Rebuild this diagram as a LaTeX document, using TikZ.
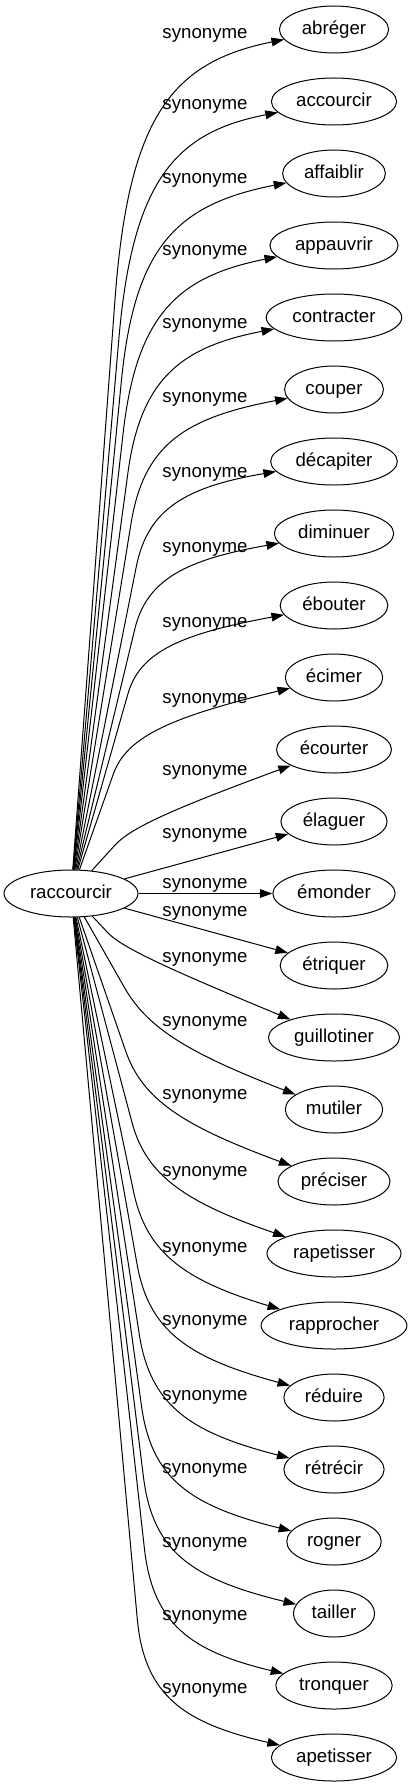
\documentclass[tikz,border=0pt]{standalone}
\usepackage{fontspec}
\setmainfont{Liberation Sans}
\usepackage{tikz}
\usetikzlibrary{arrows.meta,calc,shapes.geometric}
\tikzset{
  every node/.style={font=\fontsize{18.67}{22}\selectfont},
  word/.style={draw, ellipse, line width=1pt, inner xsep=6.4pt, inner ysep=0pt,
    minimum height=47pt, text height=13.5pt, text depth=4pt},
  syn/.style={line width=1pt, -{Triangle[length=12.5pt,width=8.7pt]}},
  lbl/.style={inner sep=0pt, text height=13.5pt, text depth=4pt}
}
% edge from raccourcir, straight up to #4pt before the bend (#2,#3), then curved
\newcommand\synedge[4]{
\coordinate (k#1) at (#2,#3);
\coordinate (a#1) at ($(k#1)!#4pt!(raccourcir)$);
\draw[syn] (raccourcir) -- (a#1) .. controls ($(a#1)!0.8!(k#1)$) and ($(#1)!0.8!(k#1)$) .. (#1);}

\begin{document}
\begin{tikzpicture}[x=1pt,y=-1pt]
\fill[white] (0,0) rectangle (410,1787);
\useasboundingbox (0,0) rectangle (410,1787);
\node[word] (raccourcir) at (71,893.5) {raccourcir};
\node[word] (abreger) at (334,29.5) {abréger};
\node[word] (accourcir) at (334,101.5) {accourcir};
\node[word] (affaiblir) at (334,173.5) {affaiblir};
\node[word] (appauvrir) at (334,245.5) {appauvrir};
\node[word] (contracter) at (334,317.5) {contracter};
\node[word] (couper) at (334,389.5) {couper};
\node[word] (decapiter) at (334,461.5) {décapiter};
\node[word] (diminuer) at (334,533.5) {diminuer};
\node[word] (ebouter) at (334,605.5) {ébouter};
\node[word] (ecimer) at (334,677.5) {écimer};
\node[word] (ecourter) at (334,749.5) {écourter};
\node[word] (elaguer) at (334,821.5) {élaguer};
\node[word] (emonder) at (334,893.5) {émonder};
\node[word] (etriquer) at (334,965.5) {étriquer};
\node[word] (guillotiner) at (334,1037.5) {guillotiner};
\node[word] (mutiler) at (334,1109.5) {mutiler};
\node[word] (preciser) at (334,1181.5) {préciser};
\node[word] (rapetisser) at (334,1253.5) {rapetisser};
\node[word] (rapprocher) at (334,1325.5) {rapprocher};
\node[word] (reduire) at (334,1397.5) {réduire};
\node[word] (retrecir) at (334,1469.5) {rétrécir};
\node[word] (rogner) at (334,1541.5) {rogner};
\node[word] (tailler) at (334,1613.5) {tailler};
\node[word] (tronquer) at (334,1685.5) {tronquer};
\node[word] (apetisser) at (334,1757.5) {apetisser};
% edges
\synedge{abreger}{132}{70}{230}
\synedge{accourcir}{136}{140}{200}
\synedge{affaiblir}{138}{212}{170}
\synedge{appauvrir}{140}{284}{150}
\synedge{contracter}{144}{354}{120}
\synedge{couper}{147}{425}{100}
\synedge{decapiter}{151}{493}{75}
\synedge{diminuer}{150}{566}{65}
\synedge{ebouter}{143}{641}{55}
\synedge{ecimer}{130}{727}{50}
\synedge{ecourter}{135}{823}{30}
\draw[syn] (raccourcir) -- (elaguer);
\draw[syn] (raccourcir) -- (emonder);
\draw[syn] (raccourcir) -- (etriquer);
\synedge{guillotiner}{125}{951}{25}
\synedge{mutiler}{154}{1039.5}{60}
\synedge{preciser}{147}{1112.5}{65}
\synedge{rapetisser}{150}{1190}{70}
\synedge{rapprocher}{150}{1270}{80}
\synedge{reduire}{152}{1348}{85}
\synedge{retrecir}{153}{1423}{90}
\synedge{rogner}{154}{1497}{92}
\synedge{tailler}{155}{1570}{94}
\synedge{tronquer}{155}{1643}{95}
\synedge{apetisser}{146}{1714.5}{96}
% labels
\node[lbl] (s1) at (205,33.5) {synonyme};
\node[lbl] (s2) at (205,104.5) {synonyme};
\node[lbl] (s3) at (205,178.5) {synonyme};
\node[lbl] (s4) at (205,250.5) {synonyme};
\node[lbl] (s5) at (205,324) {synonyme};
\node[lbl] (s6) at (205,397.5) {synonyme};
\node[lbl] (s7) at (205,472.5) {synonyme};
\node[lbl] (s8) at (205,547.5) {synonyme};
\node[lbl] (s9) at (205,623) {synonyme};
\node[lbl] (s10) at (205,699) {synonyme};
\node[lbl] (s11) at (205,770.5) {synonyme};
\node[lbl] (s12) at (205,834) {synonyme};
\node[lbl] (s13) at (205,883.5) {synonyme};
\node[lbl] (s14) at (205,911.5) {synonyme};
\node[lbl] (s15) at (205,957.5) {synonyme};
\node[lbl] (s16) at (205,1021.5) {synonyme};
\node[lbl] (s17) at (205,1095) {synonyme};
\node[lbl] (s18) at (205,1171.5) {synonyme};
\node[lbl] (s19) at (205,1247.5) {synonyme};
\node[lbl] (s20) at (205,1320.5) {synonyme};
\node[lbl] (s21) at (205,1395.5) {synonyme};
\node[lbl] (s22) at (205,1469) {synonyme};
\node[lbl] (s23) at (205,1542.5) {synonyme};
\node[lbl] (s24) at (205,1615.5) {synonyme};
\node[lbl] (s25) at (205,1689) {synonyme};
\end{tikzpicture}
\end{document}
